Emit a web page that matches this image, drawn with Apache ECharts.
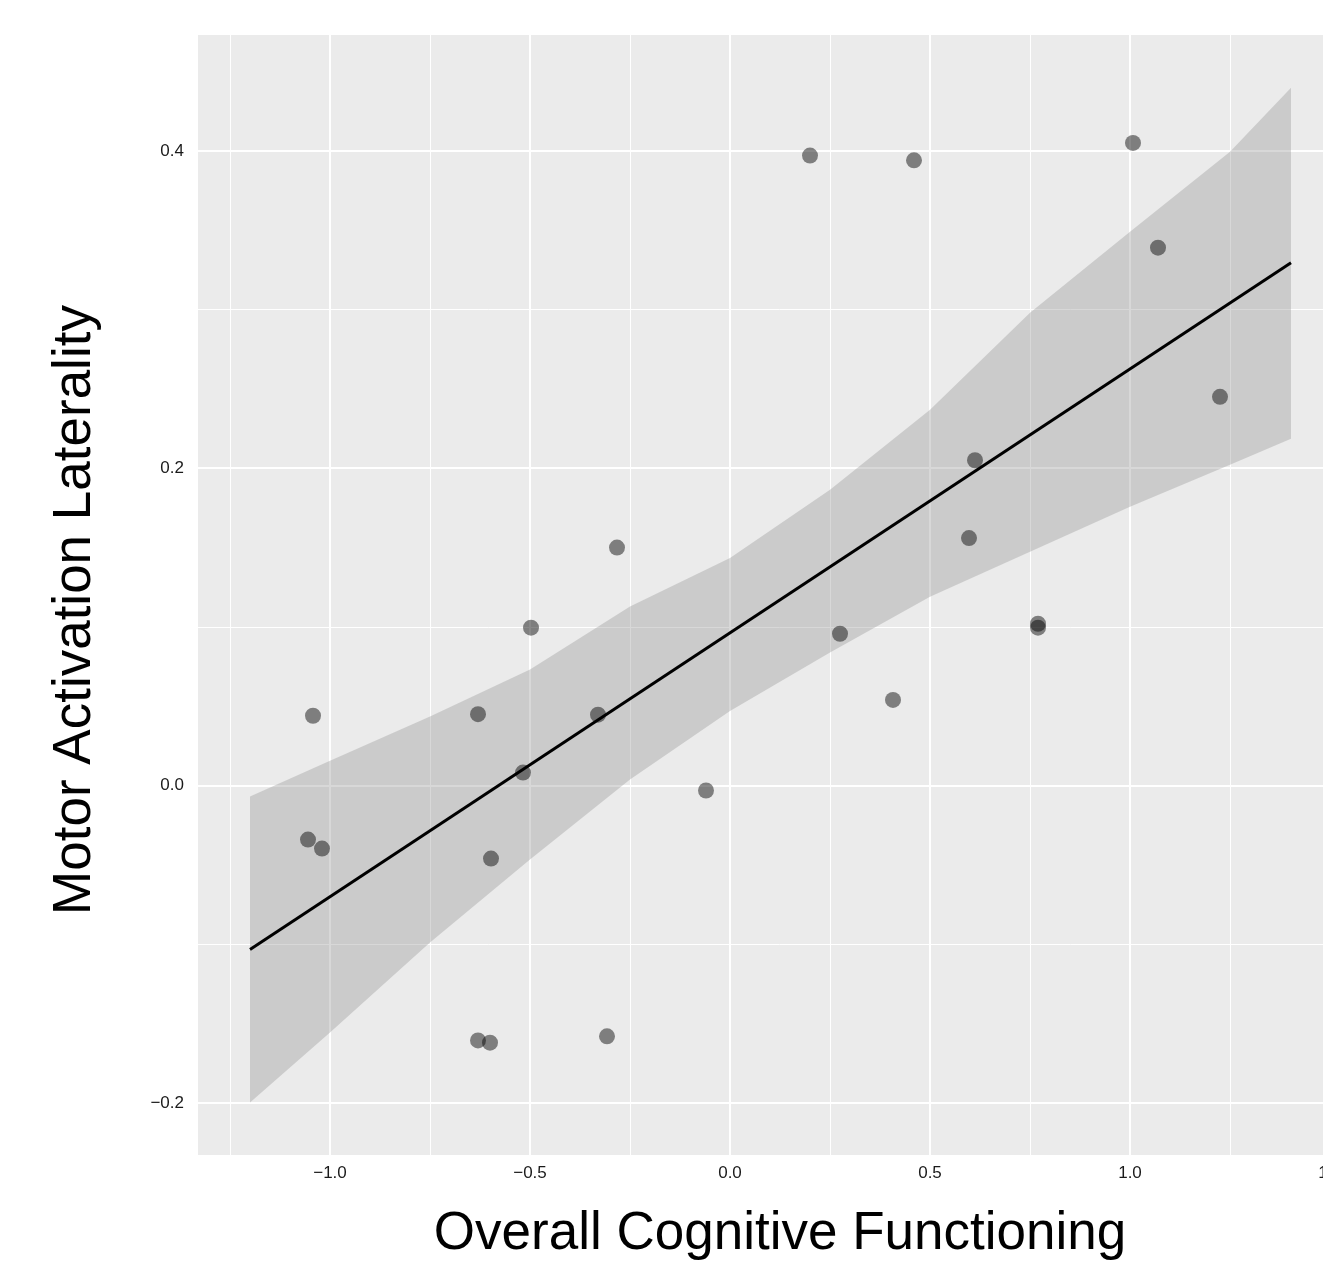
<!DOCTYPE html>
<html>
<head>
<meta charset="utf-8">
<script src="https://cdn.jsdelivr.net/npm/echarts@6/dist/echarts.min.js"></script>
<style>
html,body{margin:0;padding:0;background:#fff;overflow:hidden;width:1323px;height:1270px;}
#chart{width:1361px;height:1270px;}
</style>
</head>
<body>
<div id="chart"></div>
<script>
// ---- data ----
const pointsX = [0.20, 0.46, 1.0075, 1.07, 1.225, 0.6125, 0.5975, -0.2825, -0.4975, 0.275, 0.77, 0.77, 0.4075, -1.0425, -0.63, -0.33, -0.5175, -0.06, -1.055, -1.02, -0.5975, -0.63, -0.60, -0.3075];
const pointsY = [0.397, 0.394, 0.405, 0.339, 0.245, 0.205, 0.156, 0.150, 0.0995, 0.0957, 0.102, 0.0995, 0.054, 0.044, 0.045, 0.0447, 0.0082, -0.0031, -0.034, -0.0397, -0.046, -0.1606, -0.162, -0.158];

const fitX = [-1.2, 1.4025];
const fitY = [-0.1033, 0.3295];

const bandX     = [-1.2, -1.0, -0.75, -0.5, -0.25, 0.0, 0.25, 0.5, 0.75, 1.0, 1.25, 1.4025];
const bandUpper = [-0.0069, 0.0157, 0.0435, 0.0731, 0.1128, 0.1434, 0.1865, 0.2369, 0.298, 0.349, 0.3994, 0.4397];
const bandLower = [-0.1997, -0.1556, -0.0989, -0.0466, 0.0038, 0.047, 0.0838, 0.119, 0.1474, 0.1757, 0.2022, 0.2186];

const xTicks = [-1.0, -0.5, 0.0, 0.5, 1.0, 1.5];
const yTicks = [-0.2, 0.0, 0.2, 0.4];
const xMinorGrid = [-1.25, -0.75, -0.25, 0.25, 0.75, 1.25];
const yMinorGrid = [-0.1, 0.1, 0.3];

const xTitle = 'Overall Cognitive Functioning';
const yTitle = 'Motor Activation Laterality';

// ---- chart ----
const fmt = v => (v < 0 ? '\u2212' : '') + Math.abs(v).toFixed(1);
const chart = echarts.init(document.getElementById('chart'), null, {renderer: 'canvas'});

const gridLines = [];
xTicks.forEach(v => gridLines.push({xAxis: v, lineStyle: {color: '#ffffff', width: 2, type: 'solid'}}));
xMinorGrid.forEach(v => gridLines.push({xAxis: v, lineStyle: {color: '#ffffff', width: 1, type: 'solid'}}));
yTicks.forEach(v => gridLines.push({yAxis: v, lineStyle: {color: '#ffffff', width: 2, type: 'solid'}}));
yMinorGrid.forEach(v => gridLines.push({yAxis: v, lineStyle: {color: '#ffffff', width: 1, type: 'solid'}}));

const font = '"Liberation Sans", Arial, Helvetica, sans-serif';

chart.setOption({
  animation: false,
  backgroundColor: '#ffffff',
  grid: {
    left: 198, top: 35, right: 0, bottom: 115,
    show: true, backgroundColor: '#ebebeb', borderWidth: 0
  },
  xAxis: {
    type: 'value', min: -1.33, max: 1.5775,
    axisLine: {show: false},
    splitLine: {show: false},
    axisTick: {show: true, length: 5, lineStyle: {color: '#333333', width: 1.5}, customValues: xTicks},
    axisLabel: {customValues: xTicks, formatter: fmt, color: '#1a1a1a', fontSize: 17, fontFamily: font, margin: 10, showMaxLabel: true}
  },
  yAxis: {
    type: 'value', min: -0.2328, max: 0.473,
    axisLine: {show: false},
    splitLine: {show: false},
    axisTick: {show: true, length: 5, lineStyle: {color: '#333333', width: 1.5}, customValues: yTicks},
    axisLabel: {customValues: yTicks, formatter: fmt, color: '#1a1a1a', fontSize: 17, fontFamily: font, margin: 14}
  },
  graphic: [
    {type: 'text', x: 780, y: 1234, z: 10,
     style: {text: xTitle, fill: '#000000', font: '53px ' + font, textAlign: 'center', textVerticalAlign: 'middle'}},
    {type: 'text', x: 75, y: 610, rotation: Math.PI / 2, z: 10,
     style: {text: yTitle, fill: '#000000', font: '53px ' + font, textAlign: 'center', textVerticalAlign: 'middle'}}
  ],
  series: [
    {
      type: 'scatter', data: [], z: 1, silent: true,
      markLine: {silent: true, z: 1, zlevel: 0, symbol: 'none', label: {show: false}, animation: false, data: gridLines}
    },
    {
      type: 'custom', z: 2, silent: true,
      data: [[bandX[0], bandUpper[0]]],
      renderItem: function (params, api) {
        const pts = [];
        for (let i = 0; i < bandX.length; i++) pts.push(api.coord([bandX[i], bandUpper[i]]));
        for (let i = bandX.length - 1; i >= 0; i--) pts.push(api.coord([bandX[i], bandLower[i]]));
        return {type: 'polygon', shape: {points: pts}, style: {fill: 'rgba(153,153,153,0.38)'}};
      }
    },
    {
      type: 'scatter', z: 3, symbolSize: 16,
      data: pointsX.map((x, i) => [x, pointsY[i]]),
      itemStyle: {color: 'rgba(0,0,0,0.58)'}
    },
    {
      type: 'line', z: 4, showSymbol: false, symbol: 'none',
      data: fitX.map((x, i) => [x, fitY[i]]),
      lineStyle: {color: '#000000', width: 3}
    }
  ]
});
</script>
</body>
</html>
